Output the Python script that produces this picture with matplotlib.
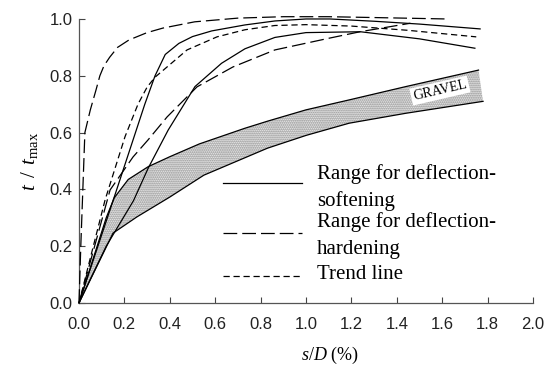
import numpy as np
import matplotlib
matplotlib.use("Agg")
import matplotlib.pyplot as plt

plt.rcParams['font.family'] = ['Liberation Sans', 'DejaVu Sans']
plt.rcParams['mathtext.fontset'] = 'custom'
plt.rcParams['mathtext.rm'] = 'Liberation Serif'
plt.rcParams['mathtext.it'] = 'Liberation Serif:italic'

# curves (s/D in %, t/tmax)
hard_up_x = [0, 0.008, 0.017, 0.026, 0.05, 0.075, 0.092, 0.11, 0.135, 0.17,
             0.22, 0.3, 0.37, 0.51, 0.7, 0.9, 1.1, 1.3, 1.62]
hard_up_y = [0, 0.2, 0.4, 0.6, 0.68, 0.75, 0.8, 0.835, 0.865, 0.9,
             0.926, 0.952, 0.968, 0.99, 1.003, 1.008, 1.008, 1.005, 1.0]

hard_lo_x = [0, 0.137, 0.238, 0.304, 0.388, 0.52, 0.678, 0.863, 1.106,
             1.238, 1.46]
hard_lo_y = [0, 0.398, 0.514, 0.574, 0.655, 0.761, 0.831, 0.891, 0.933,
             0.955, 0.985]

soft_up_x = [0, 0.15, 0.22, 0.29, 0.335, 0.38, 0.44, 0.5, 0.585, 0.731,
             0.863, 1.0, 1.106, 1.3, 1.5, 1.767]
soft_up_y = [0, 0.36, 0.53, 0.70, 0.8, 0.875, 0.914, 0.938, 0.958, 0.979,
             0.993, 1.0, 1.0, 0.992, 0.982, 0.965]

soft_lo_x = [0, 0.12, 0.24, 0.305, 0.393, 0.511, 0.628, 0.731, 0.863, 1.0,
             1.24, 1.5, 1.744]
soft_lo_y = [0, 0.2, 0.36, 0.475, 0.609, 0.762, 0.844, 0.895, 0.935, 0.952,
             0.955, 0.93, 0.897]

trend_x = [0, 0.06, 0.115, 0.203, 0.26, 0.3, 0.335, 0.388, 0.476, 0.608,
           0.731, 0.863, 1.0, 1.2, 1.45, 1.75]
trend_y = [0, 0.19, 0.363, 0.586, 0.7, 0.76, 0.795, 0.831, 0.891, 0.937,
           0.962, 0.977, 0.98, 0.975, 0.96, 0.937]

gravel_up_x = [0, 0.12, 0.155, 0.217, 0.305, 0.4, 0.53, 0.73, 0.83, 1.0,
               1.19, 1.44, 1.76]
gravel_up_y = [0, 0.30, 0.37, 0.435, 0.48, 0.515, 0.56, 0.615, 0.64, 0.68,
               0.715, 0.762, 0.82]
gravel_lo_x = [0, 0.15, 0.255, 0.4, 0.55, 0.83, 1.0, 1.19, 1.44, 1.78]
gravel_lo_y = [0, 0.246, 0.303, 0.373, 0.45, 0.545, 0.59, 0.633, 0.668, 0.71]

xticks = np.arange(0, 2.01, 0.2)
yticks = np.arange(0, 1.01, 0.2)

LONG = (0, (11, 4))
SHORT = (0, (5, 3))

fig = plt.figure(figsize=(5.5, 3.72), dpi=100)
ax = fig.add_axes([0.1436, 0.1855, 0.8255, 0.7635])

# gravel band
bx = np.r_[gravel_up_x, gravel_lo_x[::-1]]
by = np.r_[gravel_up_y, gravel_lo_y[::-1]]
ax.fill(bx, by, facecolor='white', edgecolor='#7a7a7a', hatch='........',
        linewidth=0, zorder=1)
ax.plot(gravel_up_x, gravel_up_y, color='k', lw=0.9, zorder=2)
ax.plot(gravel_lo_x, gravel_lo_y, color='k', lw=0.9, zorder=2)

kw = dict(color='k', lw=0.9, clip_on=False, zorder=3)
ax.plot(soft_up_x, soft_up_y, ls='-', **kw)
ax.plot(soft_lo_x, soft_lo_y, ls='-', **kw)
ax.plot(hard_up_x, hard_up_y, ls=LONG, **kw)
ax.plot(hard_lo_x, hard_lo_y, ls=LONG, **kw)
ax.plot(trend_x, trend_y, ls=SHORT, **kw)

ax.text(1.59, 0.748, 'GRAVEL', family='Liberation Serif', fontsize=10,
        rotation=13, ha='center', va='center', zorder=4,
        bbox=dict(facecolor='white', edgecolor='none', pad=1.5))

# hand-made legend
serif = dict(family='Liberation Serif', fontsize=15, va='center')
ax.plot([0.634, 0.982], [0.423, 0.423], ls='-', color='k', lw=0.9)
ax.plot([0.634, 0.982], [0.246, 0.246], ls=LONG, color='k', lw=0.9)
ax.plot([0.634, 0.982], [0.095, 0.095], ls=SHORT, color='k', lw=0.9)
ax.text(1.048, 0.455, 'Range for deflection-', **serif)
ax.text(1.048, 0.36, 'softening', **serif)
ax.text(1.048, 0.285, 'Range for deflection-', **serif)
ax.text(1.048, 0.19, 'hardening', **serif)
ax.text(1.048, 0.102, 'Trend line', **serif)

ax.set_xlim(0, 2.0)
ax.set_ylim(0, 1.0)
ax.set_xticks(xticks)
ax.set_yticks(yticks)
ax.set_xticklabels(['%.1f' % v for v in xticks])
ax.set_yticklabels(['%.1f' % v for v in yticks])
ax.tick_params(direction='in', length=4, width=0.8, colors='#444444',
               labelsize=12, labelcolor='#222222')
ax.tick_params(axis='x', pad=10)
ax.tick_params(axis='y', pad=4.5)
for s in ['top', 'right']:
    ax.spines[s].set_visible(False)
for s in ['left', 'bottom']:
    ax.spines[s].set_color('#555555')
    ax.spines[s].set_linewidth(0.9)

ax.set_xlabel(r'$s/D\ \mathrm{(\%)}$', fontsize=13)
ax.xaxis.set_label_coords(0.553, -0.148)
ax.set_ylabel(r'$t\enspace/\enspace t_{\mathrm{max}}$', fontsize=15)
ax.yaxis.set_label_coords(-0.086, 0.5)

fig.savefig('out.png', dpi=100)
